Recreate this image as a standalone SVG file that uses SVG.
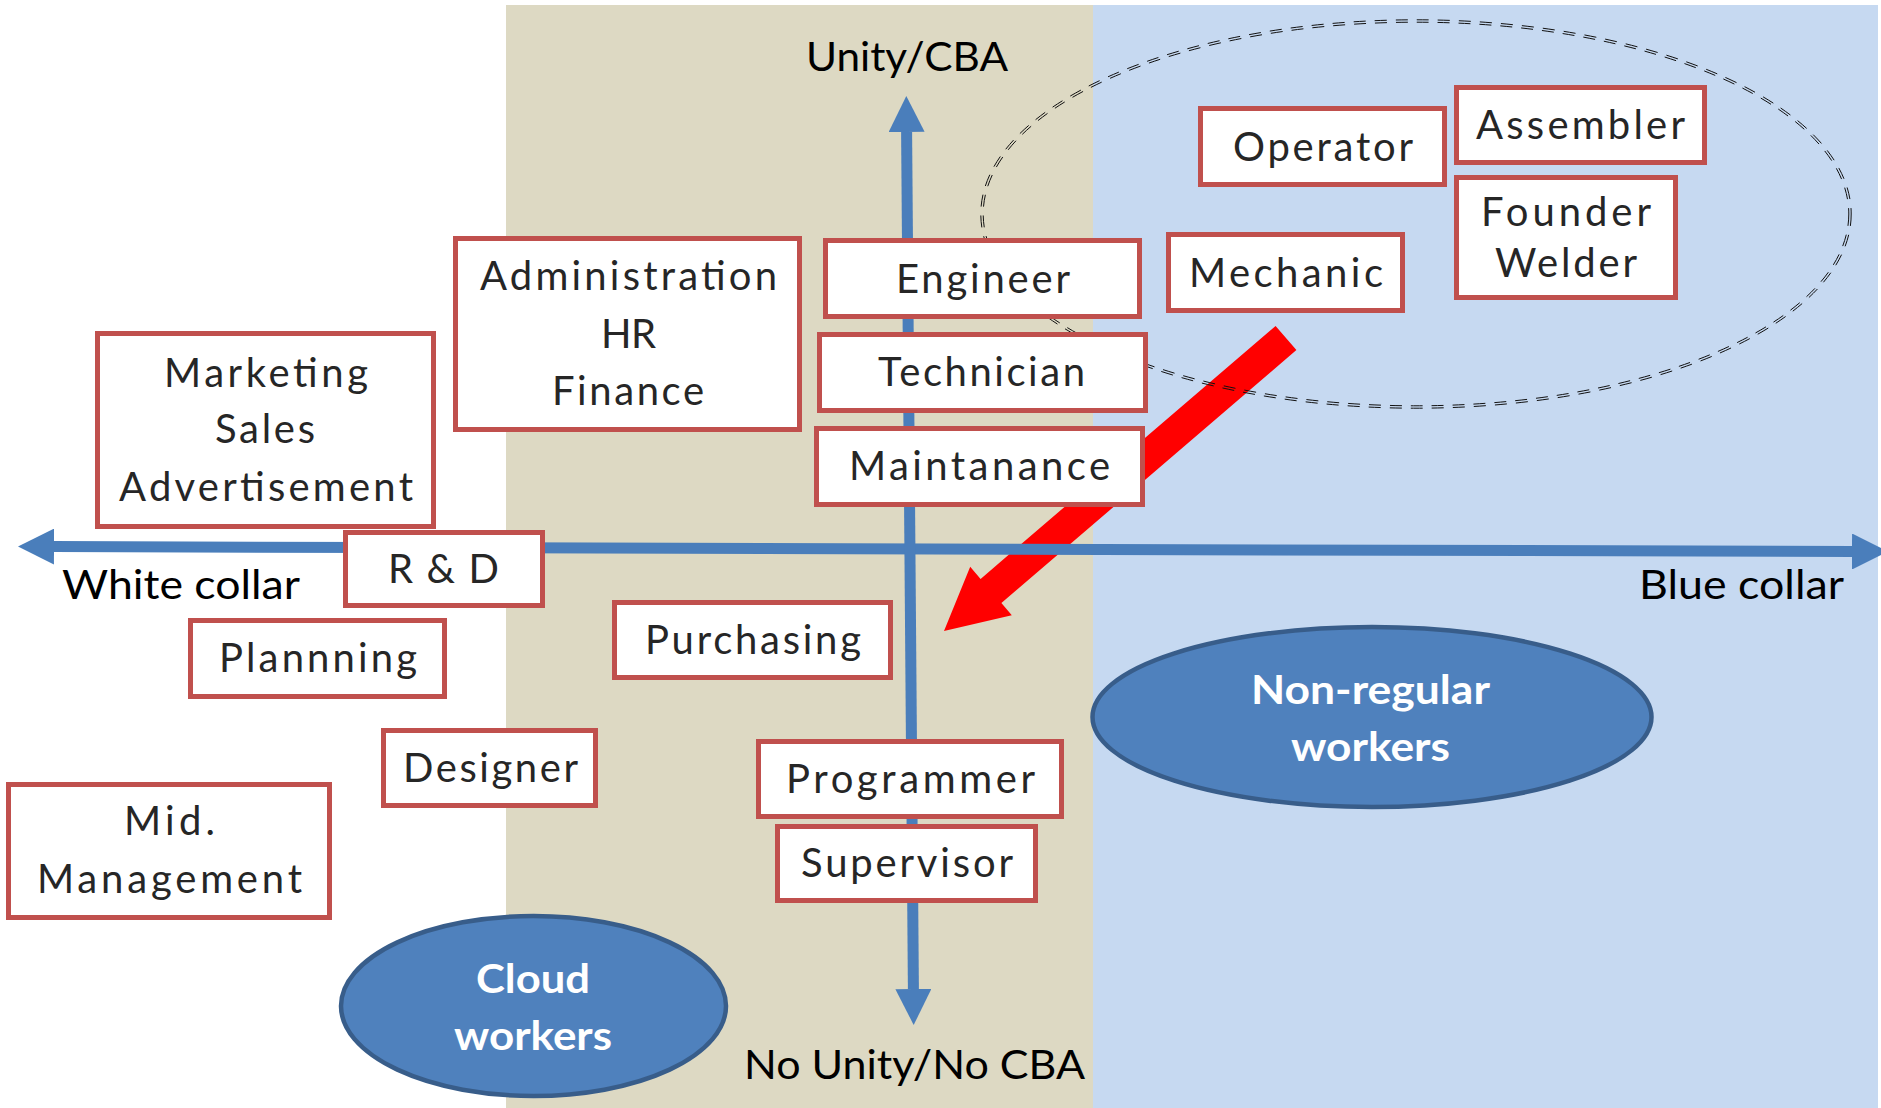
<svg xmlns="http://www.w3.org/2000/svg" width="1881" height="1108" viewBox="0 0 1881 1108">
<defs>
<style>
.box{fill:#FFFFFF;stroke:#C0504D;stroke-width:5}
.bl{font-family:Lato,"Open Sans","DejaVu Sans",sans-serif;font-size:40px;fill:#262626;text-anchor:middle}
.ax{font-family:Lato,"Open Sans","DejaVu Sans",sans-serif;font-size:41px;fill:#000000;text-anchor:middle}
.el{fill:#4F81BD;stroke:#385D8A;stroke-width:4.5}
.et{font-family:Lato,"Open Sans","DejaVu Sans",sans-serif;font-size:41px;font-weight:700;fill:#FFFFFF;text-anchor:middle}
.axis{fill:none;stroke:#4A7EBB;stroke-width:11;marker-start:url(#ah);marker-end:url(#ah)}
.dash{fill:none;stroke:#111111;stroke-width:1;stroke-dasharray:12 9}
</style>
<marker id="ah" markerUnits="userSpaceOnUse" markerWidth="36" markerHeight="36" viewBox="0 0 36 36" refX="0" refY="18" orient="auto-start-reverse">
<path d="M0,0 L36,18 L0,36 Z" fill="#4A7EBB"/>
</marker>
</defs>

<g id="background">
<rect x="0" y="0" width="1881" height="1108" fill="#FFFFFF"/>
<rect x="506" y="5" width="587" height="1103" fill="#DDD9C3"/>
<rect x="1093" y="5" width="785" height="1103" fill="#C6D9F1"/>
</g>

<g id="connectors">
<polygon id="red-arrow" points="1275.6,325.9 980.6,578.9 970.2,566.7 944,631 1011.8,615.3 1001.4,603.1 1296.4,350.1" fill="#FF0000"/>
<g id="blue-collar-group">
<ellipse class="dash" cx="1416" cy="214" rx="435.2" ry="194.2" pathLength="2043"/>
<ellipse class="dash" cx="1416" cy="214" rx="432.8" ry="191.8" pathLength="2043"/>
</g>
<line id="x-axis" class="axis" x1="54" y1="546.6" x2="1852" y2="551.5"/>
<line id="y-axis" class="axis" x1="906.6" y1="132" x2="913.4" y2="989"/>
</g>

<g id="axis-labels">
<text class="ax" x="907" y="71" textLength="202" lengthAdjust="spacingAndGlyphs">Unity/CBA</text>
<text class="ax" x="181" y="599" textLength="238" lengthAdjust="spacingAndGlyphs">White collar</text>
<text class="ax" x="1741.5" y="599" textLength="205" lengthAdjust="spacingAndGlyphs">Blue collar</text>
<text class="ax" x="914.5" y="1079" textLength="341" lengthAdjust="spacingAndGlyphs">No Unity/No CBA</text>
</g>

<g id="marketing">
<rect class="box" x="97.5" y="333.5" width="336" height="193"/>
<text class="bl" x="266" y="387" textLength="204">Marketing</text>
<text class="bl" x="265" y="443" textLength="100">Sales</text>
<text class="bl" x="266" y="501" textLength="294">Advertisement</text>
</g>

<g id="administration">
<rect class="box" x="455.5" y="238.5" width="344" height="191"/>
<text class="bl" x="628.5" y="290" textLength="297">Administration</text>
<text class="bl" x="628.5" y="348" textLength="55">HR</text>
<text class="bl" x="628" y="405" textLength="152">Finance</text>
</g>

<g id="engineer">
<rect class="box" x="825.5" y="240.5" width="314" height="76"/>
<text class="bl" x="983" y="293" textLength="174">Engineer</text>
</g>

<g id="technician">
<rect class="box" x="819.5" y="334.5" width="326" height="76"/>
<text class="bl" x="981.5" y="386" textLength="207">Technician</text>
</g>

<g id="maintanance">
<rect class="box" x="816.5" y="428.5" width="326" height="76"/>
<text class="bl" x="979.5" y="480" textLength="261">Maintanance</text>
</g>

<g id="mechanic">
<rect class="box" x="1168.5" y="234.5" width="234" height="76"/>
<text class="bl" x="1286" y="287" textLength="194">Mechanic</text>
</g>

<g id="operator">
<rect class="box" x="1200.5" y="108.5" width="244" height="76"/>
<text class="bl" x="1323" y="161" textLength="180">Operator</text>
</g>

<g id="assembler">
<rect class="box" x="1456.5" y="87.5" width="248" height="75"/>
<text class="bl" x="1580.5" y="139" textLength="209">Assembler</text>
</g>

<g id="founder-welder">
<rect class="box" x="1456.5" y="177.5" width="219" height="120"/>
<text class="bl" x="1566" y="226" textLength="170">Founder</text>
<text class="bl" x="1566" y="277" textLength="142">Welder</text>
</g>

<g id="rnd">
<rect class="box" x="345.5" y="532.5" width="197" height="73"/>
<text class="bl" x="443.5" y="583" textLength="111">R &amp; D</text>
</g>

<g id="planning">
<rect class="box" x="190.5" y="620.5" width="254" height="76"/>
<text class="bl" x="318" y="672" textLength="198">Plannning</text>
</g>

<g id="purchasing">
<rect class="box" x="614.5" y="602.5" width="276" height="75"/>
<text class="bl" x="753" y="654" textLength="216">Purchasing</text>
</g>

<g id="designer">
<rect class="box" x="383.5" y="730.5" width="212" height="75"/>
<text class="bl" x="490.5" y="782" textLength="175">Designer</text>
</g>

<g id="mid-management">
<rect class="box" x="8.5" y="784.5" width="321" height="133"/>
<text class="bl" x="169.5" y="835" textLength="91">Mid.</text>
<text class="bl" x="169.5" y="893" textLength="265">Management</text>
</g>

<g id="programmer">
<rect class="box" x="758.5" y="741.5" width="303" height="75"/>
<text class="bl" x="910.5" y="793" textLength="249">Programmer</text>
</g>

<g id="supervisor">
<rect class="box" x="777.5" y="826.5" width="258" height="74"/>
<text class="bl" x="907" y="877" textLength="212">Supervisor</text>
</g>

<g id="cloud-workers">
<ellipse class="el" cx="533.5" cy="1006" rx="192.5" ry="90"/>
<text class="et" x="533" y="993" textLength="114" lengthAdjust="spacingAndGlyphs">Cloud</text>
<text class="et" x="533" y="1050" textLength="158" lengthAdjust="spacingAndGlyphs">workers</text>
</g>

<g id="non-regular-workers">
<ellipse class="el" cx="1372" cy="717" rx="279.5" ry="90"/>
<text class="et" x="1370.5" y="704" textLength="239" lengthAdjust="spacingAndGlyphs">Non-regular</text>
<text class="et" x="1370.5" y="761" textLength="159" lengthAdjust="spacingAndGlyphs">workers</text>
</g>
</svg>
